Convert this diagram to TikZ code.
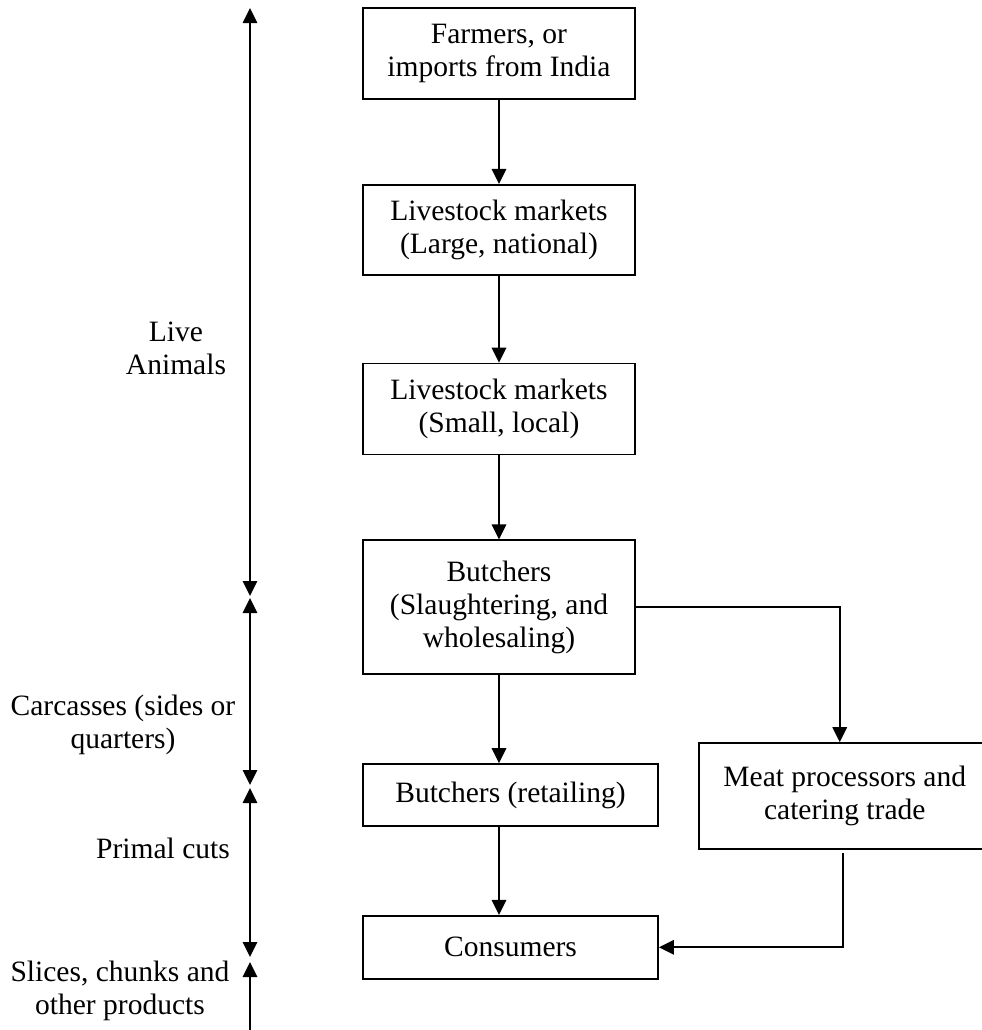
\documentclass[tikz,border=0pt]{standalone}
\usepackage{fontspec}
\setmainfont{Liberation Serif}
\usepackage{tikz}
\usetikzlibrary{arrows.meta, positioning}

\begin{document}
\begin{tikzpicture}[
    stage/.style={
        draw, line width=1pt, minimum width=5.44cm, minimum height=1.82cm,
        align=center, inner sep=2pt, font=\fontsize{16.8pt}{18.8pt}\selectfont
    },
    arr/.style={-{Triangle[length=0.3cm, width=0.29cm]}, line width=1pt},
    axisarr/.style={{Triangle[length=0.3cm, width=0.29cm]}-{Triangle[length=0.3cm, width=0.29cm]}, line width=1pt},
    side/.style={align=center, font=\fontsize{16.8pt}{18.8pt}\selectfont}
]
\useasboundingbox (0,0) rectangle (19.64,-20.6);

% =============================================
% MAIN CHAIN
% =============================================
\node[stage] (farmers) at (9.98,-1.07) {Farmers, or\\imports from India};
\node[stage, minimum height=1.8cm, below=1.68cm of farmers] (large) {Livestock markets\\(Large, national)};
\node[stage, below=1.74cm of large] (small) {Livestock markets\\(Small, local)};
\node[stage, minimum height=2.68cm, below=1.68cm of small] (butchers) {Butchers\\(Slaughtering, and\\wholesaling)};
\node[stage, minimum width=5.9cm, minimum height=1.24cm, below=1.76cm of butchers, xshift=0.23cm] (retail) {Butchers (retailing)};
\node[stage, minimum width=5.9cm, minimum height=1.26cm, below=1.76cm of retail] (consumers) {Consumers};

% side branch
\node[stage, minimum width=5.84cm, minimum height=2.12cm, below right=1.34cm and 1.24cm of butchers] (meat) {Meat processors and\\catering trade};

\draw[arr] (farmers.south) -- (large.north);
\draw[arr] (large.south) -- (small.north);
\draw[arr] (small.south) -- (butchers.north);
\draw[arr] (butchers.south) -- (butchers.south |- retail.north);
\draw[arr] (retail.south -| butchers.south) -- (consumers.north -| butchers.south);
\draw[arr] (butchers.east) -| ([xshift=-0.1cm]meat.north);
\draw[arr] ([xshift=-0.04cm, yshift=-0.06cm]meat.south) |- (consumers.east);

% =============================================
% PRODUCT AXIS
% =============================================
\coordinate (ax0) at (5,-0.16);
\coordinate (ax1) at (5,-11.92);
\coordinate (ax2) at (5,-11.96);
\coordinate (ax3) at (5,-15.7);
\coordinate (ax4) at (5,-15.76);
\coordinate (ax5) at (5,-19.14);
\coordinate (ax6) at (5,-19.24);
\coordinate (ax7) at (5,-20.6);

\draw[axisarr] (ax0) -- (ax1);
\draw[axisarr] (ax2) -- (ax3);
\draw[axisarr] (ax4) -- (ax5);
\draw[arr] (ax7) -- (ax6);

\node[side] (live) at (3.52,-6.96) {Live\\Animals};
\node[side] (carc) at (2.46,-14.5) {Carcasses (sides or\\quarters)};
\node[side] (primal) at (3.26,-16.96) {Primal cuts};
\node[side] (slices) at (2.4,-19.82) {Slices, chunks and\\other products};

\end{tikzpicture}
\end{document}
